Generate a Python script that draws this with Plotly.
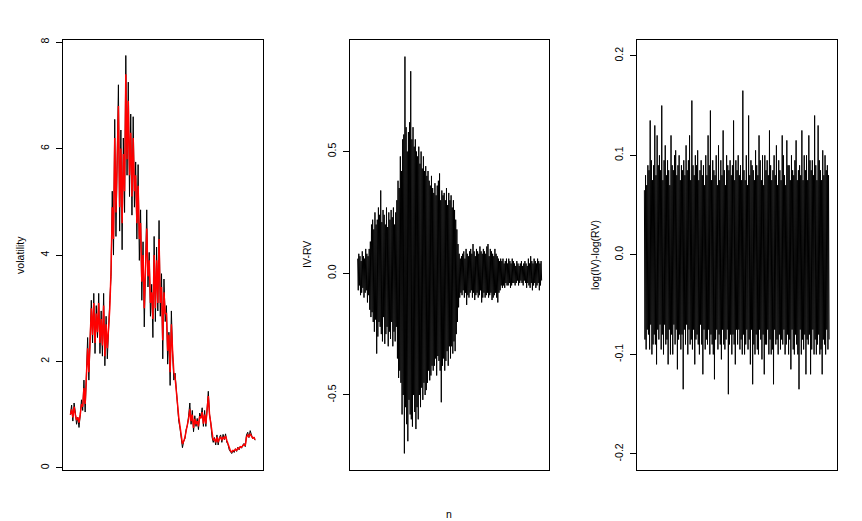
import plotly.graph_objects as go

# ---------------- data ----------------
vol_iv = [1.0, 1.18, 0.88, 1.22, 1.05, 0.82, 0.95, 0.76, 1.0, 1.28, 1.08, 1.65,
          1.05, 1.95, 2.45, 1.65, 2.35,
          3.15, 2.35, 3.28, 2.15, 3.05, 2.45, 3.28, 2.15, 2.95, 2.1, 3.28, 1.92, 2.85, 2.05, 2.75, 3.15,
          3.6, 5.2, 4.0, 6.55, 4.35, 6.1, 7.2, 4.45, 6.35, 4.1, 6.2,
          4.8, 7.75, 5.5, 7.25, 5.1, 6.65, 4.75, 6.6,
          4.9, 5.75, 4.3, 5.7, 3.9, 4.85, 3.15, 4.25, 2.65, 4.05, 4.85,
          3.4, 4.05, 2.85, 3.45, 2.45, 4.35, 2.75, 4.15, 2.95, 4.65, 2.85,
          3.65, 2.05, 3.55, 2.75, 3.05, 1.95, 2.55, 1.55, 2.95, 2.15, 1.65,
          1.78, 1.45, 1.22, 0.88, 0.75, 0.52, 0.38, 0.5, 0.55, 0.72, 0.8,
          0.98, 1.22, 0.82, 1.08, 0.68, 0.98, 0.78, 0.93, 0.72, 1.03,
          0.95, 1.13, 0.78, 1.08, 0.78, 1.12, 1.44, 1.0, 0.85, 0.58, 0.48,
          0.57, 0.43, 0.62, 0.43, 0.57, 0.62, 0.48, 0.63, 0.53, 0.64, 0.48, 0.44, 0.34, 0.29, 0.27, 0.32,
          0.29, 0.36, 0.31, 0.39, 0.34, 0.41, 0.37, 0.43, 0.46, 0.4, 0.62, 0.67, 0.57, 0.7, 0.6, 0.55, 0.58, 0.52]

vol_rv = [1.0, 1.1, 0.95, 1.15, 1.0, 0.9, 0.95, 0.85, 1.0, 1.2, 1.15, 1.5,
          1.2, 1.85, 2.25, 1.8, 2.35,
          3.0, 2.5, 3.1, 2.35, 2.9, 2.55, 3.1, 2.35, 2.8, 2.3, 3.05, 2.1, 2.7, 2.25, 2.65, 3.0,
          3.7, 4.9, 4.3, 6.2, 4.8, 5.8, 6.8, 4.9, 6.0, 4.6, 5.9,
          5.2, 7.4, 5.8, 6.9, 5.5, 6.3, 5.1, 6.2,
          5.2, 5.5, 4.6, 5.3, 4.3, 4.6, 3.5, 4.0, 3.0, 3.8, 4.5,
          3.6, 3.9, 3.1, 3.3, 2.8, 4.0, 3.0, 3.9, 3.1, 4.3, 3.1,
          3.4, 2.4, 3.3, 2.9, 2.9, 2.2, 2.5, 1.8, 2.7, 2.2, 1.8,
          1.7, 1.5, 1.2, 0.95, 0.75, 0.58, 0.45, 0.5, 0.57, 0.7, 0.8,
          0.92, 1.1, 0.88, 1.0, 0.75, 0.92, 0.82, 0.88, 0.78, 0.97,
          0.93, 1.05, 0.83, 1.0, 0.83, 1.08, 1.35, 1.0, 0.85, 0.62, 0.52,
          0.55, 0.48, 0.58, 0.48, 0.55, 0.58, 0.52, 0.58, 0.55, 0.6, 0.52, 0.46, 0.37, 0.32, 0.3, 0.33,
          0.32, 0.35, 0.33, 0.37, 0.36, 0.4, 0.39, 0.42, 0.44, 0.42, 0.58, 0.62, 0.58, 0.64, 0.6, 0.56, 0.57, 0.53]

iv_minus_rv = [
    0.06, -0.07, 0.08, -0.05, 0.07, -0.09, 0.05, -0.08, 0.09, -0.06,
    0.07, -0.1, 0.06, -0.08, 0.1, -0.07, 0.08, -0.12, 0.07, -0.09,
    0.1, -0.15, 0.13, -0.18, 0.2, -0.16, 0.22, -0.2, 0.18, -0.24,
    0.25, -0.19, 0.2, -0.33, 0.22, -0.26, 0.27, -0.2, 0.24, -0.22,
    0.34, -0.25, 0.21, -0.28, 0.26, -0.18, 0.24, -0.29, 0.2, -0.25,
    0.27, -0.22, 0.19, -0.3, 0.25, -0.24, 0.22, -0.27, 0.26, -0.2,
    0.23, -0.3, 0.27, -0.24, 0.2, -0.28, 0.25, -0.22, 0.3, -0.35,
    0.38, -0.43, 0.35, -0.4, 0.48, -0.45, 0.42, -0.58, 0.55, -0.5,
    0.57, -0.74, 0.89, -0.55, 0.6, -0.62, 0.5, -0.69, 0.58, -0.52,
    0.62, -0.58, 0.83, -0.6, 0.55, -0.63, 0.6, -0.5, 0.52, -0.57,
    0.55, -0.64, 0.5, -0.55, 0.48, -0.6, 0.52, -0.5, 0.45, -0.55,
    0.5, -0.47, 0.43, -0.52, 0.48, -0.45, 0.42, -0.5, 0.44, -0.48,
    0.4, -0.45, 0.42, -0.4, 0.38, -0.44, 0.36, -0.42, 0.4, -0.38,
    0.35, -0.4, 0.33, -0.38, 0.37, -0.35, 0.32, -0.42, 0.36, -0.34,
    0.38, -0.36, 0.41, -0.4, 0.3, -0.53, 0.34, -0.38, 0.32, -0.35,
    0.33, -0.4, 0.3, -0.36, 0.35, -0.32, 0.28, -0.38, 0.33, -0.3,
    0.3, -0.35, 0.32, -0.3, 0.27, -0.33, 0.3, -0.28, 0.26, -0.32,
    0.22, -0.25, 0.18, -0.2, 0.12, -0.14, 0.08, -0.1, 0.06, -0.08,
    0.07, -0.09, 0.08, -0.07, 0.09, -0.1, 0.06, -0.08, 0.1, -0.13,
    0.08, -0.09, 0.07, -0.1, 0.09, -0.08, 0.1, -0.07, 0.08, -0.1,
    0.12, -0.08, 0.09, -0.11, 0.07, -0.09, 0.1, -0.08, 0.09, -0.1,
    0.08, -0.09, 0.11, -0.07, 0.09, -0.12, 0.08, -0.1, 0.1, -0.08,
    0.09, -0.1, 0.08, -0.09, 0.11, -0.08, 0.12, -0.1, 0.07, -0.09,
    0.1, -0.08, 0.09, -0.11, 0.08, -0.1, 0.07, -0.09, 0.1, -0.08,
    0.08, -0.1, 0.07, -0.12, 0.06, -0.08, 0.05, -0.07, 0.06, -0.05,
    0.05, -0.06, 0.06, -0.05, 0.04, -0.06, 0.05, -0.04, 0.06, -0.05,
    0.04, -0.05, 0.06, -0.04, 0.05, -0.06, 0.04, -0.05, 0.06, -0.04,
    0.05, -0.04, 0.04, -0.05, 0.03, -0.04, 0.05, -0.03, 0.04, -0.05,
    0.03, -0.04, 0.04, -0.03, 0.05, -0.04, 0.03, -0.05, 0.04, -0.03,
    0.05, -0.04, 0.04, -0.06, 0.03, -0.04, 0.06, -0.05, 0.04, -0.06,
    0.07, -0.04, 0.05, -0.07, 0.04, -0.05, 0.06, -0.04, 0.05, -0.06,
    0.04, -0.05, 0.06, -0.04, 0.05, -0.07, 0.04, -0.05, 0.05, -0.03]

log_diff = [
    0.065, -0.085, 0.08, -0.095, 0.07, -0.075, 0.09, -0.08, 0.085, -0.095,
    0.135, -0.07, 0.095, -0.1, 0.075, -0.09, 0.09, -0.08, 0.13, -0.09,
    0.08, -0.11, 0.12, -0.075, 0.09, -0.085, 0.1, -0.07, 0.085, -0.095,
    0.15, -0.08, 0.075, -0.1, 0.095, -0.07, 0.11, -0.09, 0.08, -0.085,
    0.095, -0.11, 0.085, -0.075, 0.07, -0.1, 0.12, -0.08, 0.09, -0.1,
    0.085, -0.07, 0.1, -0.09, 0.105, -0.075, 0.08, -0.115, 0.09, -0.085,
    0.1, -0.08, 0.075, -0.095, 0.09, -0.08, 0.085, -0.135, 0.095, -0.075,
    0.08, -0.09, 0.11, -0.07, 0.085, -0.1, 0.095, -0.075, 0.12, -0.09,
    0.075, -0.085, 0.155, -0.095, 0.09, -0.075, 0.08, -0.11, 0.1, -0.085,
    0.09, -0.08, 0.105, -0.09, 0.075, -0.1, 0.085, -0.07, 0.095, -0.09,
    0.08, -0.12, 0.09, -0.075, 0.07, -0.095, 0.1, -0.085, 0.08, -0.09,
    0.12, -0.075, 0.09, -0.1, 0.145, -0.08, 0.075, -0.09, 0.095, -0.1,
    0.085, -0.125, 0.08, -0.085, 0.1, -0.075, 0.07, -0.095, 0.11, -0.08,
    0.075, -0.09, 0.095, -0.105, 0.08, -0.075, 0.125, -0.09, 0.085, -0.095,
    0.07, -0.085, 0.1, -0.075, 0.09, -0.14, 0.085, -0.09, 0.095, -0.08,
    0.08, -0.1, 0.09, -0.08, 0.135, -0.09, 0.075, -0.11, 0.095, -0.075,
    0.085, -0.09, 0.1, -0.075, 0.08, -0.095, 0.09, -0.085, 0.075, -0.1,
    0.165, -0.08, 0.085, -0.1, 0.075, -0.09, 0.1, -0.075, 0.07, -0.095,
    0.14, -0.085, 0.08, -0.11, 0.095, -0.075, 0.09, -0.13, 0.085, -0.09,
    0.075, -0.1, 0.105, -0.08, 0.09, -0.095, 0.08, -0.1, 0.12, -0.075,
    0.095, -0.085, 0.075, -0.105, 0.1, -0.08, 0.07, -0.12, 0.1, -0.09,
    0.085, -0.09, 0.095, -0.075, 0.08, -0.1, 0.125, -0.085, 0.09, -0.1,
    0.075, -0.095, 0.085, -0.13, 0.1, -0.075, 0.08, -0.09, 0.11, -0.085,
    0.07, -0.1, 0.095, -0.08, 0.085, -0.095, 0.075, -0.085, 0.12, -0.09,
    0.1, -0.075, 0.08, -0.1, 0.07, -0.09, 0.115, -0.08, 0.09, -0.1,
    0.09, -0.085, 0.075, -0.115, 0.1, -0.075, 0.085, -0.095, 0.08, -0.1,
    0.095, -0.08, 0.115, -0.09, 0.075, -0.1, 0.085, -0.135, 0.09, -0.075,
    0.08, -0.1, 0.125, -0.085, 0.075, -0.095, 0.1, -0.08, 0.085, -0.12,
    0.1, -0.085, 0.075, -0.09, 0.12, -0.08, 0.095, -0.12, 0.085, -0.095,
    0.095, -0.075, 0.08, -0.1, 0.14, -0.085, 0.09, -0.1, 0.075, -0.09,
    0.13, -0.08, 0.095, -0.1, 0.085, -0.095, 0.075, -0.12, 0.105, -0.085,
    0.08, -0.09, 0.1, -0.1, 0.085, -0.075, 0.09, -0.095, 0.08, -0.085]

vol_ticks = [0, 2, 4, 6, 8]
vol_ticktext = ["0", "2", "4", "6", "8"]
d_ticks = [-0.5, 0.0, 0.5]
d_ticktext = ["-0.5", "0.0", "0.5"]
l_ticks = [-0.2, -0.1, 0.0, 0.1, 0.2]
l_ticktext = ["-0.2", "-0.1", "0.0", "0.1", "0.2"]

# ---------------- figure ----------------
W, H = 862, 521
FONT = "Liberation Sans, Arial, Helvetica, sans-serif"
FS = 10.5

def xr(n):
    return [1 - 0.04 * (n - 1), n + 0.04 * (n - 1)]

n1 = list(range(1, len(vol_iv) + 1))
n2 = list(range(1, len(iv_minus_rv) + 1))
n3 = list(range(1, len(log_diff) + 1))

fig = go.Figure()
fig.add_trace(go.Scatter(x=n1, y=vol_iv, mode="lines", line=dict(color="black", width=1),
                         xaxis="x", yaxis="y", showlegend=False))
fig.add_trace(go.Scatter(x=n1, y=vol_rv, mode="lines", line=dict(color="red", width=1.5),
                         xaxis="x", yaxis="y", showlegend=False))
fig.add_trace(go.Scatter(x=n2, y=iv_minus_rv, mode="lines", line=dict(color="black", width=1),
                         xaxis="x2", yaxis="y2", showlegend=False))
fig.add_trace(go.Scatter(x=n3, y=log_diff, mode="lines", line=dict(color="black", width=1),
                         xaxis="x3", yaxis="y3", showlegend=False))

ydom = [1 - 470 / H, 1 - 37.7 / H]
common_x = dict(showticklabels=False, ticks="", showgrid=False, zeroline=False,
                showline=True, mirror=True, linecolor="black", linewidth=1)
common_y = dict(showgrid=False, zeroline=False, showline=True, mirror=True,
                linecolor="black", linewidth=1, ticks="outside", ticklen=6,
                tickcolor="black", tickwidth=1, tickangle=-90,
                tickfont=dict(family=FONT, size=FS, color="black"),
                ticklabelstandoff=3)

fig.update_layout(
    width=W, height=H,
    margin=dict(l=0, r=0, t=0, b=0),
    paper_bgcolor="white", plot_bgcolor="white",
    xaxis=dict(domain=[63 / W, 262.5 / W], range=xr(len(vol_iv)), anchor="y", **common_x),
    yaxis=dict(domain=ydom, range=[-0.043, 8.05], tickvals=vol_ticks, ticktext=vol_ticktext,
               anchor="x", **common_y),
    xaxis2=dict(domain=[350.3 / W, 549 / W], range=xr(len(iv_minus_rv)), anchor="y2", **common_x),
    yaxis2=dict(domain=ydom, range=[-0.809, 0.960], tickvals=d_ticks, ticktext=d_ticktext,
                anchor="x2", **common_y),
    xaxis3=dict(domain=[637 / W, 836.5 / W], range=xr(len(log_diff)), anchor="y3", **common_x),
    yaxis3=dict(domain=ydom, range=[-0.2163, 0.2163], tickvals=l_ticks, ticktext=l_ticktext,
                anchor="x3", **common_y),
)

ymid = 1 - ((37.7 + 470) / 2) / H
labels = [("volatility", 20), ("IV-RV", 307), ("log(IV)-log(RV)", 595)]
for txt, px in labels:
    fig.add_annotation(text=txt, x=px / W, y=ymid, xref="paper", yref="paper",
                       textangle=-90, showarrow=False, xanchor="center", yanchor="middle",
                       font=dict(family=FONT, size=FS, color="black"))
fig.add_annotation(text="n", x=449 / W, y=1 - 514 / H, xref="paper", yref="paper",
                   showarrow=False, xanchor="center", yanchor="middle",
                   font=dict(family=FONT, size=FS, color="black"))

fig.write_html("out.html", config={"displayModeBar": False},
               post_script="document.documentElement.style.margin='0';"
                           "document.body.style.margin='0';document.body.style.padding='0';"
                           "document.body.style.overflow='hidden';")
